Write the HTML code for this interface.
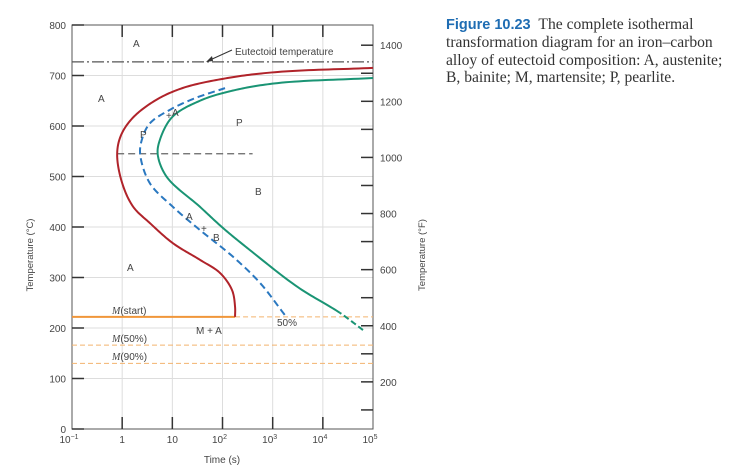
<!DOCTYPE html>
<html><head><meta charset="utf-8"><style>
body{margin:0;background:#fff;width:733px;height:467px;overflow:hidden;position:relative}
svg{position:absolute;left:0;top:0}
#cap{position:absolute;left:446px;top:16px;width:282px;font-family:"Liberation Serif",serif;font-size:15.6px;line-height:17.3px;color:#333}
#cap b{font-family:"Liberation Sans",sans-serif;color:#1f6db3;font-size:14.5px}
</style></head><body>
<svg id="ch" width="733" height="467"></svg>
<div id="cap"><b>Figure 10.23</b>&nbsp;&nbsp;The complete isothermal transformation diagram for an iron–carbon alloy of eutectoid composition: A, austenite; B, bainite; M, martensite; P, pearlite.</div>
<script>
const startT=[222,242,275,309,335,368,408,440,487,543,580,615,650,675,695,707,715];
const startLog=[2.25,2.25,2.19,1.95,1.55,1.01,0.55,0.22,0.0,-0.1,-0.03,0.2,0.65,1.2,2.1,3.1,5];
const endT=[196,230,281,354,398,440,499,543,572,618,650,670,685,695];
const endLog=[4.8,4.34,3.5,2.55,2.01,1.55,0.89,0.71,0.75,1.0,1.55,2.2,3.1,5];
const midT=[226,289,341,394,440,487,543,572,605,632,655,675];
const midLog=[3.24,2.75,2.21,1.55,1.01,0.55,0.36,0.39,0.55,0.95,1.45,2.05];
const yTicksC=[0,100,200,300,400,500,600,700,800];
const yTicksF=[1400,1200,1000,800,600,400,200];
const xTickLabels=["10","1","10","10","10","10","10"];
const xTickSup=["−1","","","2","3","4","5"];
const mLines=[222,166,130];
const eutectoid=727;
const NS="http://www.w3.org/2000/svg";
const svg=document.getElementById('ch');
const X=l=>72+(l+1)*50.17, Y=t=>429-t*0.505, YF=f=>Y((f-32)*5/9);
function el(tag,a,name,parent){const e=document.createElementNS(NS,tag);for(const k in a)e.setAttribute(k,a[k]);


(parent||svg).appendChild(e);return e;}
function txt(x,y,s,name,o){const e=el('text',Object.assign({x:x,y:y,'font-family':'Liberation Sans, sans-serif','font-size':10,fill:'#444'},o||{}),name);e.textContent=s;return e;}
for(let i=0;i<=6;i++){el('line',{x1:X(i-1),x2:X(i-1),y1:Y(800),y2:Y(0),stroke:'#ddd','stroke-width':1},'grid-v');}
yTicksC.forEach(t=>el('line',{x1:72,x2:373,y1:Y(t),y2:Y(t),stroke:'#ddd','stroke-width':1},'grid-h'));
el('rect',{x:72,y:Y(800),width:301,height:Y(0)-Y(800),fill:'none',stroke:'#555','stroke-width':1},'plot-frame');
yTicksC.forEach(t=>{el('line',{x1:72,x2:84,y1:Y(t),y2:Y(t),stroke:'#333','stroke-width':1.5},'y-tick-left');
txt(66,Y(t)+4,String(t),'y-tick-label',{'text-anchor':'end'});});
for(let f=100;f<=1400;f+=100){el('line',{x1:361,x2:373,y1:YF(f),y2:YF(f),stroke:'#333','stroke-width':1.5},'y-tick-right');}
yTicksF.forEach(f=>txt(380,YF(f)+4,String(f),'y-tick-label-f'));
for(let i=1;i<=5;i++){el('line',{x1:X(i-1),x2:X(i-1),y1:Y(800),y2:Y(800)+12,stroke:'#333','stroke-width':1.5},'x-tick-top');
el('line',{x1:X(i-1),x2:X(i-1),y1:Y(0),y2:Y(0)-12,stroke:'#333','stroke-width':1.5},'x-tick-bottom');}
xTickLabels.forEach((s,i)=>{const t=txt(X(i-1),443,s,'x-tick-label',{'text-anchor':'middle'});
if(xTickSup[i]){const sp=document.createElementNS(NS,'tspan');sp.setAttribute('dy',-4);sp.setAttribute('font-size',7);sp.textContent=xTickSup[i];t.appendChild(sp);t.setAttribute('x',X(i-1)-3);}});
txt(222,463,'Time (s)','x-axis-title',{'text-anchor':'middle'});
txt(0,0,'Temperature (°C)','y-axis-title-left',{transform:'translate(33,255) rotate(-90)','text-anchor':'middle','font-size':9.5});
txt(0,0,'Temperature (°F)','y-axis-title-right',{transform:'translate(425,255) rotate(-90)','text-anchor':'middle','font-size':9.5});
el('line',{x1:72,x2:373,y1:Y(eutectoid),y2:Y(eutectoid),stroke:'#555','stroke-width':1.2,'stroke-dasharray':'12 3 2 3'},'eutectoid-line');
el('line',{x1:X(-0.1),x2:X(2.6),y1:Y(545),y2:Y(545),stroke:'#666','stroke-width':1.2,'stroke-dasharray':'7 4'},'nose-line');
el('line',{x1:72,x2:X(startLog[0]),y1:Y(mLines[0]),y2:Y(mLines[0]),stroke:'#f0963a','stroke-width':2},'m-start-line');
el('line',{x1:X(startLog[0]),x2:373,y1:Y(mLines[0]),y2:Y(mLines[0]),stroke:'#f3b36e','stroke-width':1,'stroke-dasharray':'5 3'},'m-start-dashed');
[1,2].forEach(i=>el('line',{x1:72,x2:373,y1:Y(mLines[i]),y2:Y(mLines[i]),stroke:'#f3b36e','stroke-width':1,'stroke-dasharray':'5 3'},'m-line'));
function crPoints(T,L){const p=T.map((t,i)=>[X(L[i]),Y(t)]);const n=p.length;
const P=[[2*p[0][0]-p[1][0],2*p[0][1]-p[1][1]],...p,[2*p[n-1][0]-p[n-2][0],2*p[n-1][1]-p[n-2][1]]];
const out=[p[0]];
const tj=(ti,a,b)=>ti+Math.pow(Math.hypot(b[0]-a[0],b[1]-a[1]),0.5)+1e-6;
for(let i=0;i<n-1;i++){const p0=P[i],p1=P[i+1],p2=P[i+2],p3=P[i+3];
const t0=0,t1=tj(t0,p0,p1),t2=tj(t1,p1,p2),t3=tj(t2,p2,p3);
for(let k=1;k<=20;k++){const t=t1+(t2-t1)*k/20;
const L=(a,b,ta,tb)=>[a[0]*(tb-t)/(tb-ta)+b[0]*(t-ta)/(tb-ta),a[1]*(tb-t)/(tb-ta)+b[1]*(t-ta)/(tb-ta)];
const A1=L(p0,p1,t0,t1),A2=L(p1,p2,t1,t2),A3=L(p2,p3,t2,t3);
const B1=L(A1,A2,t0,t2),B2=L(A2,A3,t1,t3);out.push(L(B1,B2,t1,t2));}}
return out;}
function pathD(pts){return pts.map((q,i)=>(i?'L':'M')+q[0].toFixed(2)+','+q[1].toFixed(2)).join('');}
el('path',{d:pathD(crPoints(startT,startLog)),fill:'none',stroke:'#b0232a','stroke-width':2},'start-curve');
const ep=crPoints(endT,endLog);const split=20;
el('path',{d:pathD(ep.slice(split)),fill:'none',stroke:'#1a9474','stroke-width':2},'finish-curve');
el('path',{d:pathD(ep.slice(0,split+1)),fill:'none',stroke:'#1a9474','stroke-width':2,'stroke-dasharray':'6 3'},'finish-curve-dashed');
el('path',{d:pathD(crPoints(midT,midLog)),fill:'none',stroke:'#2a78c0','stroke-width':2,'stroke-dasharray':'7 4'},'fifty-percent-curve');
el('path',{d:'M232,50 L210,60',stroke:'#333',fill:'none','stroke-width':1},'eutectoid-arrow');
el('path',{d:'M206,62 L212,56 L213,61 Z',fill:'#333'},'eutectoid-arrowhead');
txt(235,55,'Eutectoid temperature','eutectoid-label',{'font-size':10});
const labs=[[133,47,'A'],[98,102,'A'],[236,126,'P'],[166,119,'+'],[172,116,'A'],[140,138,'P'],[255,195,'B'],[186,220,'A'],[201,232,'+'],[213,241,'B'],[127,271,'A'],[196,334,'M + A'],[277,326,'50%']];
labs.forEach(l=>txt(l[0],l[1],l[2],'region-label'));
[[112,314,'start'],[112,342,'50%'],[112,360,'90%']].forEach(l=>{const t=txt(l[0],l[1],'','m-label');
const a=document.createElementNS(NS,'tspan');a.setAttribute('font-style','italic');a.setAttribute('font-family','Liberation Serif, serif');a.textContent='M';t.appendChild(a);
const b=document.createElementNS(NS,'tspan');b.textContent='('+l[2]+')';t.appendChild(b);});
</script>
</body></html>
